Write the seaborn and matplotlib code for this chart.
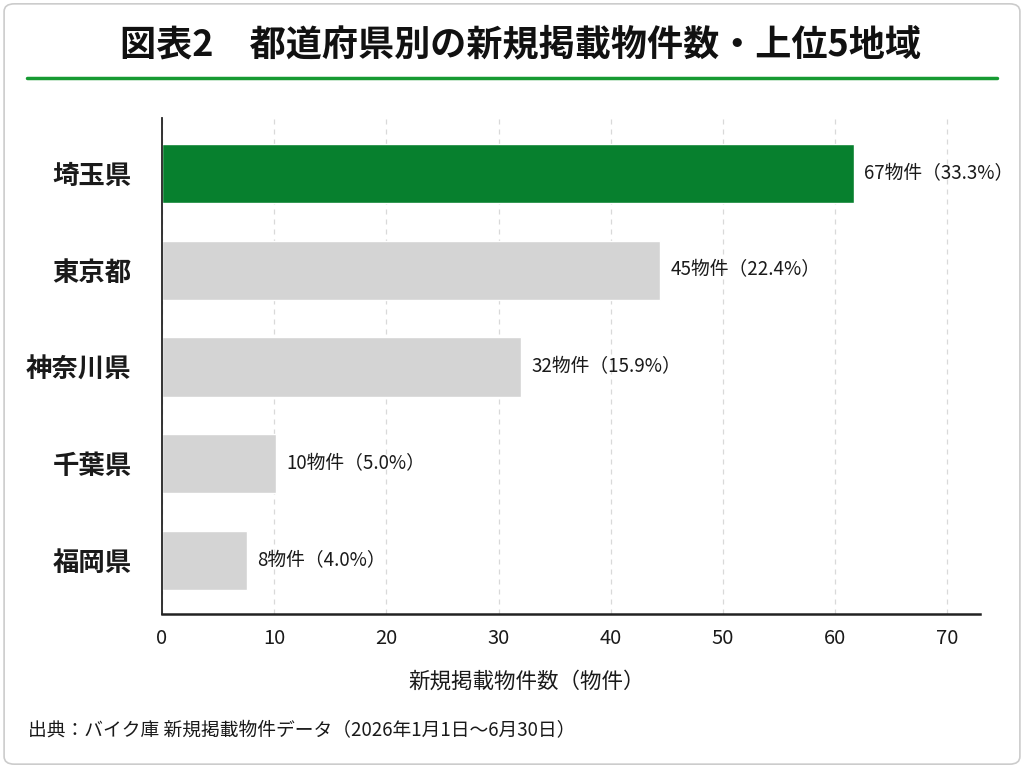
import pandas as pd
import seaborn as sns
import matplotlib.pyplot as plt
from matplotlib.patches import FancyBboxPatch
from matplotlib.lines import Line2D

# data
prefectures = ['埼玉県', '東京都', '神奈川県', '千葉県', '福岡県']
counts = [67, 45, 32, 10, 8]
shares = [33.3, 22.4, 15.9, 5.0, 4.0]
# bar lengths as drawn in the picture (axis units)
bar_len = [61.7, 44.4, 32.0, 10.2, 7.6]

df = pd.DataFrame({'pref': prefectures, 'len': bar_len,
                   'top': ['top'] + ['other'] * 4})

sns.set_theme(style='white')
plt.rcParams['font.family'] = ['Noto Sans CJK JP', 'DejaVu Sans']

fig = plt.figure(figsize=(10.24, 7.68), dpi=100)
ax = fig.add_axes([162 / 1024, 1 - 614 / 768, (980 - 162) / 1024, (614 - 118) / 768])

sns.barplot(data=df, x='len', y='pref', hue='top',
            palette={'top': '#07802e', 'other': '#d4d4d4'},
            width=0.61, legend=False, ax=ax, saturation=1)

for i, (c, s, l) in enumerate(zip(counts, shares, bar_len)):
    ax.text(l + 0.9, i, f'{c}物件（{s:.1f}%）', va='center', ha='left',
            fontsize=13.5, color='#1a1a1a')

ax.set_xlim(0, 72.9)
ax.set_ylim(4.55, -0.57)
ax.set_xticks(range(0, 71, 10))
ax.xaxis.grid(True, linestyle=(0, (4, 4)), color='#d9d9d9', linewidth=0.9)
ax.set_axisbelow(True)
for side in ['top', 'right']:
    ax.spines[side].set_visible(False)
ax.spines['left'].set_color('#222222')
ax.spines['left'].set_linewidth(1.3)
ax.spines['bottom'].set_color('#222222')
ax.spines['bottom'].set_linewidth(1.8)
ax.tick_params(axis='x', labelsize=14.5, pad=10, length=0, colors='#1a1a1a')
ax.tick_params(axis='y', labelsize=19, pad=22, length=0, colors='#1a1a1a')
for t in ax.get_yticklabels():
    t.set_fontweight('bold')
ax.set_ylabel('')
ax.set_xlabel('新規掲載物件数（物件）', fontsize=15.5, labelpad=16, color='#1a1a1a')
ax.xaxis.set_label_coords((527 - 162) / 818, -0.115)

fig.text(0.508, 1 - 45 / 768, '図表2　都道府県別の新規掲載物件数・上位5地域',
         ha='center', va='center', fontsize=26, fontweight='bold', color='#111111')
fig.add_artist(Line2D([27 / 1024, 997 / 1024], [1 - 78 / 768, 1 - 78 / 768],
                      color='#169a32', linewidth=2.5))
fig.text(28 / 1024, 1 - 731 / 768, '出典：バイク庫 新規掲載物件データ（2026年1月1日～6月30日）',
         ha='left', va='center', fontsize=13.5, color='#1a1a1a')

fig.add_artist(FancyBboxPatch((0.004, 0.005), 0.992, 0.99,
                              boxstyle='round,pad=0,rounding_size=0.01',
                              transform=fig.transFigure, fill=False,
                              edgecolor='#cccccc', linewidth=1.2))

fig.savefig('out.png', dpi=100)
